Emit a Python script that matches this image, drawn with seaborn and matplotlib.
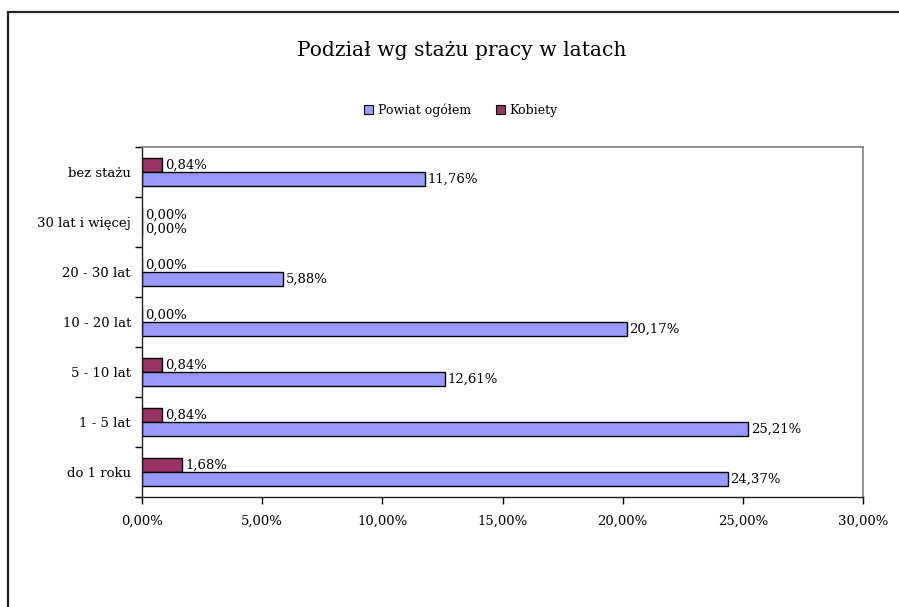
import matplotlib
matplotlib.use("Agg")
import matplotlib.pyplot as plt
import seaborn as sns
import pandas as pd
from matplotlib.patches import Patch, Rectangle
from matplotlib.ticker import FuncFormatter

categories = ["bez stażu", "30 lat i więcej", "20 - 30 lat", "10 - 20 lat",
              "5 - 10 lat", "1 - 5 lat", "do 1 roku"]
powiat_ogolem = [11.76, 0.00, 5.88, 20.17, 12.61, 25.21, 24.37]
kobiety = [0.84, 0.00, 0.00, 0.00, 0.84, 0.84, 1.68]
x_ticks = [0, 5, 10, 15, 20, 25, 30]

series_names = ["Kobiety", "Powiat ogółem"]
colors = {"Kobiety": "#993366", "Powiat ogółem": "#9999FF"}

df = pd.DataFrame({
    "kategoria": categories * 2,
    "seria": ["Kobiety"] * len(categories) + ["Powiat ogółem"] * len(categories),
    "wartosc": kobiety + powiat_ogolem,
})

sns.set_theme(style="white")
plt.rcParams["font.family"] = ["DejaVu Serif"]
plt.rcParams["text.color"] = "black"
plt.rcParams["xtick.color"] = "black"
plt.rcParams["ytick.color"] = "black"

fig = plt.figure(figsize=(8.99, 6.07), dpi=100)
ax = fig.add_axes([142 / 899, 1 - 497 / 607, 721 / 899, 350 / 607])

sns.barplot(data=df, y="kategoria", x="wartosc", hue="seria",
            order=categories, hue_order=series_names, palette=colors,
            saturation=1, orient="h", width=0.56, edgecolor="black",
            linewidth=1.0, legend=False, ax=ax)

# value labels at the end of each bar
for container in ax.containers:
    labels = [f"{v:.2f}%".replace(".", ",") for v in container.datavalues]
    ax.bar_label(container, labels=labels, padding=2, fontsize=9.5,
                 color="black")

ax.set_xlim(0, 30)
ax.set_xticks(x_ticks)
ax.xaxis.set_major_formatter(FuncFormatter(lambda v, p: f"{v:.2f}%".replace(".", ",")))
ax.set_xlabel("")
ax.set_ylabel("")

# ticks between categories on the y axis
ax.set_yticks(range(len(categories)))
ax.set_yticklabels(categories)
ax.tick_params(axis="y", length=0, labelsize=9.5, pad=8)
ax.set_yticks([i - 0.5 for i in range(len(categories) + 1)], minor=True)
ax.tick_params(axis="y", which="minor", length=5, direction="out", left=True,
               color="black", width=1)
ax.tick_params(axis="x", length=5, direction="out", bottom=True,
               color="black", width=1, labelsize=9.5, pad=8)

for side in ["top", "right"]:
    ax.spines[side].set_visible(True)
    ax.spines[side].set_color("#808080")
    ax.spines[side].set_linewidth(1.2)
for side in ["left", "bottom"]:
    ax.spines[side].set_visible(True)
    ax.spines[side].set_color("#222222")
    ax.spines[side].set_linewidth(1.0)

fig.text(462 / 899, 1 - 50 / 607, "Podział wg stażu pracy w latach",
         ha="center", va="center", fontsize=14.6)

handles = [Patch(facecolor=colors["Powiat ogółem"], edgecolor="black", linewidth=0.8),
           Patch(facecolor=colors["Kobiety"], edgecolor="black", linewidth=0.8)]
fig.legend(handles, ["Powiat ogółem", "Kobiety"], loc="center",
           bbox_to_anchor=(461 / 899, 1 - 110 / 607), ncol=2, frameon=False,
           fontsize=9, handlelength=0.7, handleheight=0.7, handletextpad=0.4,
           columnspacing=2.0)

# outer chart frame
fig.patches.append(Rectangle((8 / 899, -0.05), 1.0, 1 - 12 / 607 + 0.05,
                             transform=fig.transFigure, fill=False,
                             edgecolor="#222222", linewidth=1.6))

fig.savefig("out.png", dpi=100)
